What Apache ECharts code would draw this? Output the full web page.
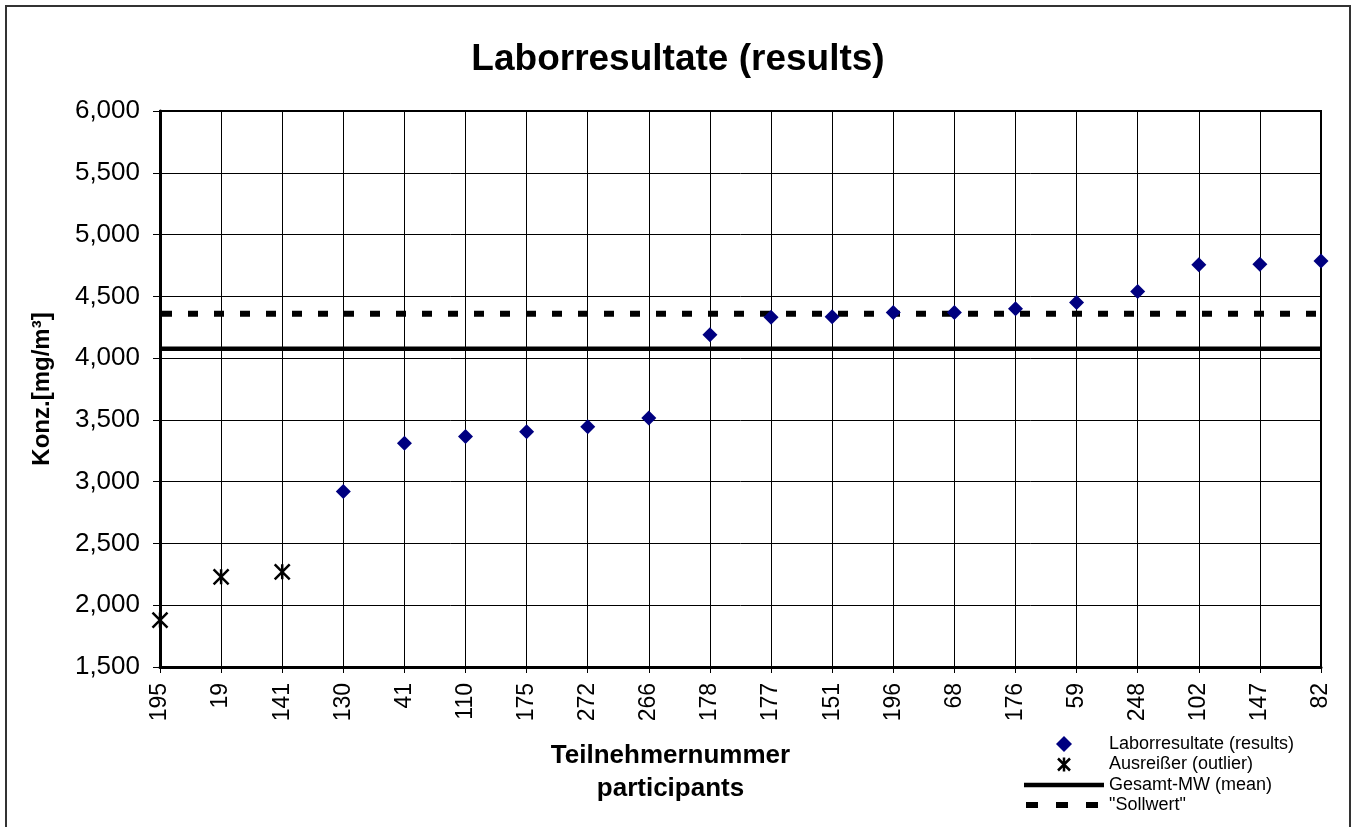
<!DOCTYPE html>
<html>
<head>
<meta charset="utf-8">
<title>Laborresultate</title>
<script src="https://cdn.jsdelivr.net/npm/echarts@6/dist/echarts.min.js"></script>
<style>
  html, body { margin: 0; padding: 0; background: #fff; }
  #chart { width: 1356px; height: 827px; }
</style>
</head>
<body>
<div id="chart"></div>
<script>
// Teilnehmernummern (x-Achse)
const participants = ['195', '19', '141', '130', '41', '110', '175', '272', '266', '178',
  '177', '151', '196', '68', '176', '59', '248', '102', '147', '82']

// Laborresultate, null = Ausreißer
const results = [null, null, null, 2920, 3310, 3365, 3405, 3445, 3515, 4190,
  4330, 4335, 4370, 4370, 4400, 4450, 4540, 4755, 4760, 4785]

// Ausreißer (outlier)
const outliers = [1880, 2230, 2270, null, null, null, null, null, null, null,
  null, null, null, null, null, null, null, null, null, null]

const meanValue = 4075
const targetValue = 4360

const yTicks = { min: 1500, max: 6000, interval: 500 }

const FONT = 'Liberation Sans, Arial, sans-serif'

const chart = echarts.init(document.getElementById('chart'))

// Legendensymbole: Pfad mit Rahmenpunkten, damit Symbol nicht gestreckt wird
const diamondIcon = 'path://M0,0M80,16M40,0L48,8L40,16L32,8Z'
const crossIcon = 'path://M0,0M80,16M34,2L46,14M46,2L34,14M40,1L40,15'

const option = {
  backgroundColor: '#fff',
  animation: false,
  title: {
    text: 'Laborresultate (results)',
    left: 'center',
    top: 41,
    padding: 0,
    textStyle: { fontFamily: FONT, fontSize: 37, fontWeight: 'bold', color: '#000' }
  },
  graphic: [{
    type: 'rect',
    shape: { x: 6, y: 6, width: 1344, height: 840 },
    style: { fill: 'none', stroke: '#333', lineWidth: 2 },
    silent: true
  }],
  legend: {
    orient: 'vertical',
    left: 1021,
    top: 734,
    padding: 0,
    itemWidth: 80,
    itemHeight: 16,
    itemGap: 0,
    textStyle: { fontFamily: FONT, fontSize: 18, color: '#000', lineHeight: 20 },
    data: [
      { name: 'Laborresultate (results)', icon: diamondIcon, itemStyle: { color: '#000080', opacity: 1 } },
      { name: 'Ausreißer (outlier)', icon: crossIcon, itemStyle: { color: 'none', borderColor: '#000', borderWidth: 2.5, opacity: 1 } },
      { name: 'Gesamt-MW (mean)', itemStyle: { opacity: 0 }, lineStyle: { color: '#000', width: 4.5, opacity: 1 } },
      { name: '"Sollwert"', itemStyle: { opacity: 0 }, lineStyle: { color: '#000', width: 6, type: [12, 18], opacity: 1 } }
    ]
  },
  grid: {
    left: 160,
    right: 35,
    top: 111,
    bottom: 160,
    show: true,
    borderColor: '#000',
    borderWidth: 2,
    containLabel: false
  },
  xAxis: {
    type: 'category',
    data: participants,
    boundaryGap: false,
    axisLine: { lineStyle: { color: '#000', width: 3 } },
    axisTick: { show: true, inside: false, length: 6, interval: 0, lineStyle: { color: '#000' } },
    axisLabel: { interval: 0, rotate: 90, margin: 16, fontFamily: FONT, fontSize: 23, color: '#000' },
    splitLine: { show: true, interval: 0, lineStyle: { color: '#000', width: 1 } },
    name: 'Teilnehmernummer\nparticipants',
    nameLocation: 'middle',
    nameGap: 72,
    nameTextStyle: {
      fontFamily: FONT, fontSize: 26, fontWeight: 'bold', color: '#000',
      lineHeight: 33, verticalAlign: 'top', padding: [0, 140, 0, 0]
    }
  },
  yAxis: {
    type: 'value',
    min: yTicks.min,
    max: yTicks.max,
    interval: yTicks.interval,
    axisLine: { show: true, lineStyle: { color: '#000', width: 3 } },
    axisTick: { show: true, length: 7, lineStyle: { color: '#000' } },
    axisLabel: {
      margin: 20, fontFamily: FONT, fontSize: 26, color: '#000',
      formatter: v => v.toLocaleString('en-US')
    },
    splitLine: { show: true, lineStyle: { color: '#000', width: 1 } },
    name: 'Konz.[mg/m³]',
    nameLocation: 'middle',
    nameGap: 106,
    nameTextStyle: { fontFamily: FONT, fontSize: 24, fontWeight: 'bold', color: '#000' }
  },
  series: [
    {
      name: 'Gesamt-MW (mean)',
      type: 'line',
      data: participants.map(() => meanValue),
      symbol: 'none',
      lineStyle: { color: '#000', width: 4.5 },
      itemStyle: { color: '#000' },
      z: 3
    },
    {
      name: '"Sollwert"',
      type: 'line',
      data: participants.map(() => targetValue),
      symbol: 'none',
      lineStyle: { color: '#000', width: 6, type: [10, 16], dashOffset: -2 },
      itemStyle: { color: '#000' },
      z: 3
    },
    {
      name: 'Laborresultate (results)',
      type: 'scatter',
      data: results,
      symbol: 'diamond',
      symbolSize: 15,
      itemStyle: { color: '#000080', opacity: 1 },
      z: 5
    },
    {
      name: 'Ausreißer (outlier)',
      type: 'scatter',
      data: outliers,
      symbol: 'path://M0,0L14,14M14,0L0,14M7,0L7,14',
      symbolSize: 15,
      itemStyle: { color: 'none', borderColor: '#000', borderWidth: 2.5, opacity: 1 },
      z: 5
    }
  ]
}

chart.setOption(option)
</script>
</body>
</html>
